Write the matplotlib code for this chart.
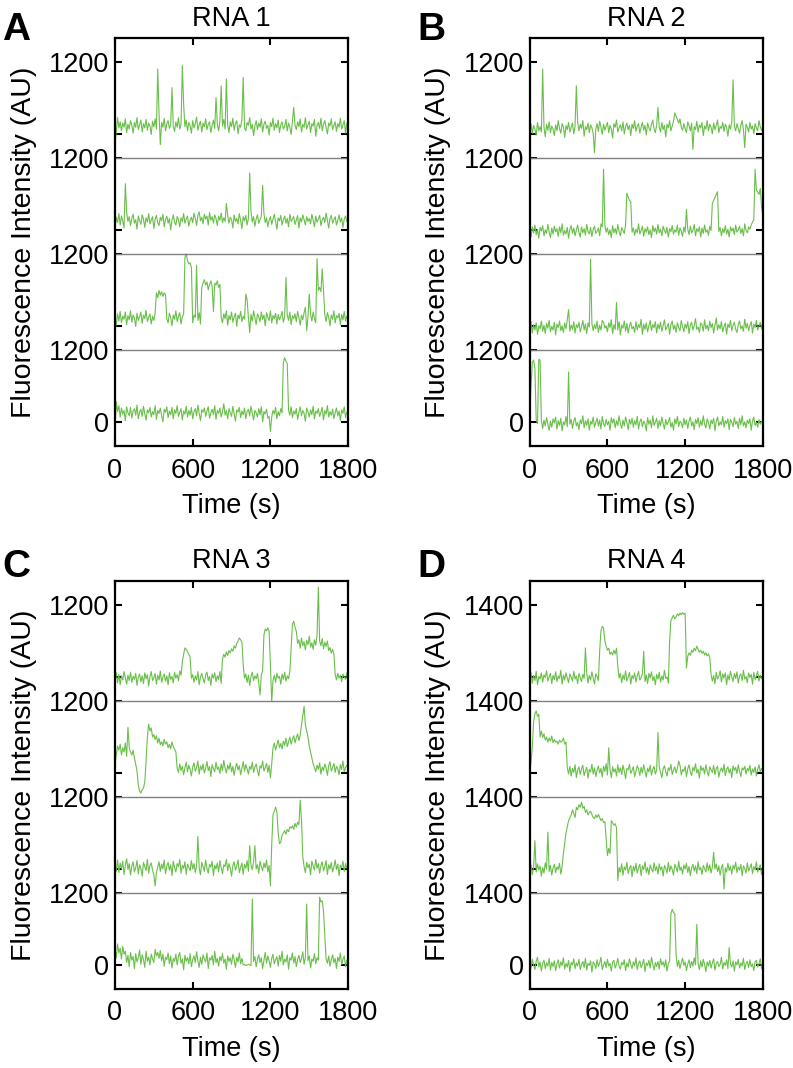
import numpy as np
import matplotlib.pyplot as plt

plt.rcParams['font.family'] = ['Liberation Sans', 'DejaVu Sans']

# time axis, one sample every 10 s
time_s = np.arange(0, 1801, 10)

# Panel A, RNA 1 (top to bottom), AU
rna1_a = [-150, 40, 280, 110, 210, 60, 190, 120, 260, 30,
          170, 90, 230, 150, 20, 200, 120, 280, 80, 160,
          240, 40, 180, 110, 250, 70, 190, 140, 0, 220,
          130, 260, 90, 1090, 350, -170, 200, 120, 270, 60,
          180, 230, 100, 160, 780, 140, 50, 210, 120, 280,
          90, 170, 1150, 500, 130, 240, 60, 200, 150, 20,
          230, 110, 180, 290, 70, 160, 220, 40, 190, 130,
          260, 80, 170, 210, 30, 150, 240, 100, 615, 180,
          60, 220, 810, 140, 250, 90, 925, 160, 30, 210,
          130, 270, 70, 180, 230, 10, 160, 120, 250, 950,
          110, 60, 200, 150, 280, 90, 170, -20, 140, 230,
          80, 190, 120, 260, 40, 170, 220, 100, 150, -10,
          200, 130, 270, 70, 180, 110, 240, 30, 160, 210,
          90, 140, 250, 60, 190, 120, 0, 230, 450, 150,
          80, 210, 130, 260, 40, 170, 120, 280, 90, 160,
          220, 30, 180, 140, 250, -30, 150, 200, 100, 270,
          60, 170, 230, 110, 10, 190, 140, 260, 80, 150,
          210, 50, 180, 120, 270, 90, 160, 230, 20, 190,
          140]
rna1_b = [60, 220, 130, 280, 90, 240, 160, 40, 780, 300,
          150, 230, 80, 200, 270, 120, 180, 20, 240, 160,
          100, 260, 190, 50, 210, 140, 280, 110, 170, 230,
          30, 190, 250, 130, 80, 220, 160, 270, 60, 180,
          240, 120, 200, 10, 170, 260, 140, 90, 230, 180,
          60, 210, 150, 280, 120, 190, 240, 70, 170, 220,
          130, 290, 200, 80, 250, 310, 160, 220, 110, 270,
          190, 240, 90, 300, 170, 230, 120, 260, 200, 80,
          240, 170, 290, 130, 210, 150, 450, 250, 120, 220,
          180, 40, 260, 150, 200, 110, 280, 170, 30, 230,
          160, 250, 90, 200, 960, 320, 140, 230, 70, 190,
          260, 120, 180, 240, 750, 280, 130, 210, 60, 170,
          230, 100, 190, 270, 140, 20, 210, 160, 250, 90,
          180, 240, 120, 200, 60, 270, 150, 190, 230, 100,
          170, 250, 40, 210, 140, 260, 180, 90, 230, 150,
          200, 110, 270, 170, 60, 240, 140, 190, 250, 80,
          180, 220, 130, 290, 160, 40, 200, 250, 120, 180,
          230, 90, 170, 260, 140, 210, 50, 190, 240, 150,
          110]
rna1_c = [130, 20, 210, 90, 250, 60, 170, 120, 240, 30,
          180, 110, 260, 70, 190, 140, 0, 220, 100, 160,
          240, 50, 190, 130, 270, 80, 150, 210, 40, 170,
          100, 230, 560, 480, 600, 520, 580, 500, 560, 530,
          130, 60, 220, 150, 10, 190, 120, 260, 80, 170,
          230, 40, 160, 200, 1150, 1210, 1100, 1040, 1060, 980,
          60, 190, 150, 1020, 100, 230, 40, 650, 720, 780,
          690, 740, 610, 700, 760, 670, 250, 720, 690, 760,
          650, 700, 150, 60, 210, 130, 260, 20, 180, 110,
          240, 70, 160, 220, 0, 190, 130, 250, 80, 170,
          120, 540, 450, 150, -100, 200, 90, 260, 140, 30,
          210, 160, 80, 240, 120, 190, 10, 230, 150, 100,
          260, 60, 180, 130, 220, 40, 200, 110, 170, 250,
          70, 160, 820, 190, 100, 240, 30, 180, 130, 210,
          80, 250, 150, 20, 190, 110, 230, 320, -70, 160,
          540, 200, 90, 240, 130, 60, 1130, 600, 650, 580,
          960, 600, 200, 80, 230, 150, 10, 190, 120, 260,
          60, 180, 140, 220, 30, 200, 110, 250, 90, 170,
          190]
rna1_d = [-120, 350, 180, 280, 90, 240, 140, 200, 30, 260,
          160, 110, 250, 70, 190, 230, 120, 290, 60, 170,
          220, 100, 270, 140, 40, 210, 160, 250, 90, 180,
          130, 280, 50, 200, 150, 240, 110, 10, 220, 170,
          260, 80, 190, 130, 250, 60, 210, 150, 280, 100,
          170, 230, 40, 190, 140, 270, 90, 200, 120, 250,
          60, 180, 230, 110, 290, 150, 30, 210, 170, 240,
          100, 190, 260, 70, 160, 220, 130, 280, 50, 200,
          150, 240, 90, 180, 310, 120, 200, 60, 230, 160,
          100, 270, 140, 20, 210, 170, 250, 80, 190, 130,
          240, 60, 180, 220, 110, 270, 150, 40, 200, 160,
          90, 230, 130, 260, 10, 180, 140, 220, 70, 100,
          -150, 90, 200, 140, 250, 60, 180, 110, 230, 160,
          1000, 1080, 1020, 980, 200, 120, 260, 80, 190, 140,
          230, 50, 170, 260, 110, 200, 150, 20, 240, 180,
          90, 210, 130, 270, 60, 190, 150, 230, 100, 170,
          250, 40, 200, 140, 280, 90, 180, 120, 220, 60,
          160, 240, 110, 190, 30, 210, 150, 260, 80, 170,
          200]

# Panel B, RNA 2
rna2_a = [80, 180, 20, 150, 90, -10, 200, 60, 130, 40,
          1090, 120, -40, 170, 70, 210, 30, 140, 90, -20,
          160, 60, 230, 100, 20, 180, 130, -50, 150, 80,
          200, 40, 120, 190, 10, 140, 810, 200, 60, 170,
          100, 230, -30, 130, 80, 190, 30, 160, 110, 20,
          -300, 90, 180, 50, 220, 120, 0, 170, 70, 140,
          200, 30, 150, 90, -60, 180, 120, 240, 40, 110,
          160, 60, 210, 10, 130, 190, 80, 150, -20, 170,
          100, 230, 50, 140, 180, 20, 120, 200, 70, 150,
          -10, 190, 110, 60, 170, 240, 90, 30, 160, 450,
          120, 40, 200, 80, 150, -40, 170, 110, 230, 60,
          140, 220, 360, 300, 250, 190, 260, 120, 70, 180,
          100, 30, 210, 150, 60, 190, -250, 130, 80, 220,
          40, 160, 110, 200, -20, 140, 90, 230, 60, 170,
          120, 10, 190, 80, 150, 240, 30, 130, 100, 200,
          50, 170, 120, -30, 160, 90, 210, 910, 140, 60,
          180, 100, 20, 150, 230, 80, -220, 170, 120, 40,
          200, 90, 140, 10, 180, 110, 60, 230, 130, 70,
          150]
rna2_b = [30, -110, 60, -40, 90, -70, 20, -130, 50, -10,
          80, -90, 10, -50, 100, -30, -120, 40, -60, 70,
          -20, 30, -100, 60, -40, 110, -80, 0, -60, 50,
          -130, 20, 80, -50, 40, -90, 10, 90, -30, -110,
          60, -40, 30, -80, 100, -20, -60, 50, -100, 20,
          70, -50, -10, 40, -90, 110, 60, 1020, 90, -30,
          40, -70, 10, -120, 80, -40, 30, -60, 100, -20,
          -90, 50, 0, -50, 90, 620, 560, 500, 480, -30,
          40, -80, 20, -40, 110, -60, 0, 70, -100, 30,
          -30, 60, -70, 10, -120, 80, -20, 40, -60, 100,
          -40, 20, -90, 70, 0, -50, 50, -110, 30, -20,
          80, -60, 10, -30, 90, -80, 40, -10, -100, 60,
          -30, 350, 20, -70, 70, -40, 0, 100, -90, 30,
          -20, 60, -110, 40, -50, 90, -30, 10, -80, 70,
          0, 450, 500, 550, 600, 645, -20, 50, -90, 30,
          -40, 80, -60, 20, -110, 60, -10, 40, -70, 90,
          -30, 10, 70, -50, 30, -90, 110, 0, -40, 60,
          20, 90, 140, 180, 1020, 670, 640, 600, 700, 400,
          250]
rna2_c = [-20, 80, -110, 30, -60, 60, -130, 10, -40, 90,
          -80, 20, -120, 50, -30, 100, -90, 0, -60, 70,
          -140, 40, -20, 90, -70, 10, -100, 60, -40, 110,
          280, -80, 20, -50, 80, -110, 30, -20, 70, -90,
          0, 100, -60, 40, -120, 60, -10, 1120, 50, -70,
          30, -40, 90, -100, 20, -60, 100, 70, -30, 10,
          -90, 60, -20, 110, -120, 30, -50, 400, -60, 80,
          -140, 20, -30, 90, -80, 50, -110, 10, 70, -40,
          0, -100, 80, -60, 30, -20, 120, -130, 40, -50,
          60, -90, 10, 100, -70, 30, -20, 80, -110, 40,
          -40, 70, -80, 10, 110, -60, -10, 50, -130, 30,
          90, -50, 20, -100, 60, -20, -70, 100, 0, -90,
          40, -30, 80, -120, 20, 70, -60, 10, 130, -50,
          -10, -100, 60, 30, -80, 110, -40, 20, -70, 90,
          -20, 50, -110, 10, 140, -60, 30, -40, 80, -90,
          0, 60, -130, 40, -20, 100, -70, 20, 70, -50,
          -100, 30, 90, -40, 10, -80, 120, -30, 50, -70,
          20, 80, -110, 40, -20, 100, -60, 0, 70, -40,
          60]
rna2_d = [100, 600, 1000, 1040, 900, 50, -20, 1050, 1040, 30,
          -100, 40, -60, 80, -30, -130, 20, -80, 60, -10,
          90, -110, 30, -50, 70, -140, 10, -40, 100, -70,
          840, -30, 50, -100, 20, 80, -60, 0, -120, 40,
          -20, 110, -90, 30, -50, 60, -130, 20, -30, 90,
          -80, 0, 70, -60, 40, -110, 100, -20, -70, 50,
          -40, 20, -130, 80, -10, 60, -90, 30, -50, 110,
          -20, -100, 40, -60, 90, 0, -120, 50, -30, 70,
          -80, 30, -40, 100, -110, 10, 60, -70, 20, -20,
          -140, 80, -30, 40, -90, 110, -50, 0, 70, -100,
          30, -60, 90, -20, -110, 50, -40, 10, 80, -80,
          0, -130, 60, -30, 100, -70, 20, -10, -90, 70,
          -40, 40, -100, 20, 90, -60, 10, -120, 50, -20,
          80, -80, 30, -50, 110, -30, -90, 60, 0, -110,
          40, -20, 70, -140, 20, 90, -60, 10, -40, 100,
          -80, 30, -20, 60, -120, 50, 0, -70, 80, -30,
          20, -100, 70, -40, 110, -60, 10, -90, 40, -20,
          60, -130, 30, 90, -50, 0, -80, 50, -30, 20,
          -20]

# Panel C, RNA 3
rna3_a = [-20, 70, -100, 40, -130, 20, -50, 90, -10, -120,
          30, -60, 80, -90, 10, -40, 60, -140, 0, 50,
          -80, 20, -110, 70, -30, 40, -150, 10, 90, -60,
          -10, 60, -120, 30, -50, 100, -90, 0, 50, -70,
          20, -130, 70, -40, 10, -100, 80, -20, 40, -60,
          100, 30, 250, 380, 485, 460, 420, 380, 330, -20,
          40, -90, 20, -50, 90, -130, 0, 60, -30, -100,
          30, 80, -60, 10, -140, 50, -20, 70, -80, 20,
          -40, 90, -110, 300, 380, 330, 420, 360, 440, 400,
          470, 430, 520, 480, 560, 600, 650, 620, 580, 200,
          -20, 50, -90, 30, -140, 10, 80, -60, 20, -30,
          60, -100, -300, 40, 100, 700, 800, 770, 820, 760,
          200, -410, -60, 30, -90, 60, -20, 10, -120, 50,
          -40, 80, -70, 20, -30, 90, 500, 880, 930, 830,
          760, 560, 620, 480, 650, 520, 590, 450, 610, 540,
          680, 500, 570, 460, 620, 530, 700, 1500, 600, 520,
          640, 470, 580, 510, 600, 440, 490, 400, 460, 380,
          40, -50, 60, -20, 30, -80, 50, 0, -40, 70,
          10]
rna3_b = [150, 300, 450, 380, 480, 300, 420, 350, 500, 280,
          760, 420, 350, 300, 380, 250, 150, 30, -200, -300,
          -335, -280, -250, -150, 200, 600, 815, 700, 750, 600,
          640, 560, 620, 500, 580, 470, 520, 450, 560, 480,
          520, 420, 480, 400, 520, 440, 400, 350, 80, 10,
          150, 40, 110, -30, 90, 180, 20, 130, 60, -50,
          100, 170, 30, 90, 200, -20, 120, 50, 150, 0,
          80, 190, 40, 110, -60, 140, 70, 20, 180, 60,
          100, -10, 150, 40, 210, 80, 0, 130, 60, 170,
          20, 110, -40, 90, 160, 50, 120, -30, 80, 190,
          30, 140, 70, -20, 110, 60, 180, 10, 100, 150,
          40, -50, 120, 80, 200, 30, 90, 160, 10, 130,
          -80, 150, 420, 500, 380, 470, 550, 420, 490, 400,
          530, 460, 580, 440, 520, 600, 480, 560, 620, 500,
          590, 650, 540, 630, 800, 950, 1110, 800, 700, 600,
          450, 350, 250, 150, 90, 20, 130, 60, 170, -20,
          100, 40, 150, 80, -40, 120, 190, 30, 90, 160,
          10, 110, 70, -30, 140, 60, 200, 20, 90, 130,
          70]
rna3_c = [80, -40, 150, -60, 100, 0, 130, -90, 60, 170,
          -10, 90, -100, 50, 120, -50, 20, 140, -80, 70,
          10, -120, 110, 40, -30, 160, -70, 60, 100, -20,
          -100, -280, -60, 30, 120, -40, 80, 0, 150, -80,
          50, 110, -20, 70, -110, 130, 20, -50, 90, 40,
          160, -70, 60, 10, 120, -90, 80, 30, -30, 140,
          0, 90, -60, 50, 540, 20, -100, 110, 40, -40,
          150, 10, -70, 80, 30, 130, -110, 60, 0, 100,
          -50, 140, 20, -80, 70, 40, 160, -30, 90, 10,
          -120, 60, 120, -20, 50, 150, -60, 30, 100, -90,
          80, 10, 140, -40, 390, 60, -10, 120, 390, 0,
          70, -70, 130, 40, -30, 100, 20, 150, -50, 60,
          -280, 400, 900, 960, 1030, 950, 600, 420, 450, 560,
          600, 640, 580, 660, 620, 700, 680, 720, 660, 760,
          700, 780, 740, 1145, 810, 200, 40, -60, 110, 20,
          80, -100, 130, 50, -20, 160, 10, 90, -70, 60,
          120, -30, 40, 140, -90, 70, 0, 110, -50, 30,
          150, -10, 80, -110, 60, 20, 130, -40, 90, 10,
          50]
rna3_d = [300, 120, 350, 200, 280, 100, 310, 180, 230, 40,
          160, -30, 210, 80, 140, -60, 190, 50, 120, 250,
          10, 170, 90, -40, 230, 60, 130, 0, 180, 100,
          40, 260, 150, 210, 110, 240, 70, 180, -20, 130,
          90, 200, 20, 150, -50, 110, 60, 180, 0, 140,
          210, 30, 100, -80, 160, 60, 120, 20, 190, -30,
          90, 150, 40, 220, 70, -40, 130, 10, 170, 100,
          50, 200, -60, 120, 80, 160, 0, 230, 40, 110,
          -20, 140, 70, 190, 30, 100, -70, 150, 60, 120,
          10, 180, 90, -40, 130, 50, 200, 20, 110, 0,
          10, -10, 0, 10, 0, -10, 1100, 60, 140, -30,
          90, 170, 40, 120, -60, 80, 210, 30, 150, 70,
          -40, 110, 180, 20, 90, 140, -20, 160, 60, 230,
          0, 100, 50, 170, -70, 120, 80, 200, 30, 140,
          -30, 90, 160, 40, 110, 220, 10, 130, 1015, 70,
          150, -50, 100, 60, 190, 20, 120, 80, 1130, 1050,
          1070, 900, 480, 100, 30, 150, -20, 90, 170, 40,
          110, -60, 130, 60, 200, 10, 90, 150, -30, 80,
          70]

# Panel D, RNA 4
rna4_a = [-20, 90, -120, 30, -70, 110, -150, 10, -40, 80,
          -100, 40, -10, 120, -80, 0, 70, -130, 30, -50,
          100, -90, 20, -30, 130, -140, 40, -60, 80, -20,
          -110, 60, 0, -80, 110, -40, 20, -130, 70, -10,
          -90, 50, -30, 565, 80, -120, 30, -60, 100, -20,
          -140, 60, 10, -70, 500, 900, 985, 950, 700, 600,
          520, 560, 440, 480, 430, 520, 450, 560, 200, -20,
          70, -110, 40, -50, 120, -80, 0, 90, -140, 30,
          -30, 80, -100, 20, 110, -60, -10, 60, 500, -90,
          40, -130, 70, -20, 100, -70, 10, -150, 50, -40,
          90, -100, 20, -60, 130, -30, 0, -120, 700, 1100,
          1150, 1200, 1130, 1170, 1230, 1190, 1245, 1210, 1250, 1220,
          1240, 175, 400, 470, 420, 520, 480, 560, 510, 600,
          540, 480, 520, 460, 500, 430, 470, 410, 450, 380,
          50, -80, 30, -130, 90, -40, 10, 120, -100, 60,
          -20, 80, -150, 40, -60, 110, 0, -90, 70, -30,
          100, -120, 20, 60, -70, 130, -40, 10, -110, 80,
          -10, 50, -140, 90, -50, 20, 110, -80, 40, -30,
          0]
rna4_b = [50, 200, 500, 1000, 1150, 1205, 1100, 1140, 700, 815,
          690, 760, 640, 700, 600, 680, 620, 720, 590, 650,
          600, 620, 560, 640, 600, 620, 680, 560, 600, 100,
          -20, 130, -60, 90, 10, 160, -90, 60, 120, -30,
          80, 150, -50, 40, 110, -100, 70, 20, 170, -20,
          100, -70, 50, 140, 0, 90, -80, 130, 30, 180,
          -40, 490, 60, -90, 120, 20, 80, -60, 160, 10,
          100, -30, 150, 40, -110, 90, 60, 170, -10, 50,
          120, -70, 30, 140, 80, -50, 110, 0, 160, 40,
          -80, 90, 20, 150, -40, 70, 130, -20, 60, 785,
          110, 10, -90, 80, 140, 30, -60, 100, 50, 170,
          -30, 60, 120, 0, 90, 230, 150, -40, 70, 30,
          130, -70, 80, 160, 20, -50, 110, 40, 180, 0,
          70, -100, 140, 50, 100, -20, 160, 30, -60, 120,
          60, 10, 150, -30, 90, 130, -80, 40, 100, 20,
          170, -50, 70, 120, 0, 80, -90, 140, 50, 110,
          -10, 160, 30, -70, 100, 60, 130, -20, 90, 40,
          150, -40, 80, 10, 120, -60, 70, 160, 20, 90,
          50]
rna4_c = [-30, 80, -110, 40, 550, -60, 100, -20, 60, -140,
          30, -80, 120, 0, 715, -50, 70, -120, 20, 90,
          -70, 40, -10, 110, -100, 50, 300, 500, 700, 820,
          940, 1000, 1050, 1150, 1080, 1000, 1200, 1150, 1250, 1200,
          1300, 1180, 1220, 1100, 1150, 1050, 1100, 1120, 1060, 1000,
          980, 1050, 1000, 1060, 1000, 940, 980, 900, 920, 600,
          260, 400, 300, 940, 900, 850, 880, 800, -225, 30,
          -60, 100, -120, 40, -20, 130, -90, 10, 70, -150,
          50, -40, 110, -80, 20, 90, -130, 60, -10, 140,
          -70, 30, -110, 80, 0, -60, 120, -30, 50, -100,
          100, -20, 40, -140, 70, 10, -80, 130, -50, 60,
          -10, -120, 90, 30, -60, 150, -30, 40, -100, 80,
          0, 110, -70, 50, -130, 20, 90, -40, 60, -90,
          140, -20, 30, -110, 70, 10, -60, 120, -30, 80,
          -80, 40, 325, 0, 100, -50, 60, -120, 30, 90,
          -390, 20, -60, 110, -30, 50, -100, 70, 0, 130,
          -70, 40, -20, 90, -130, 60, 10, -80, 120, -40,
          30, 100, -90, 50, -20, 140, -60, 20, 80, -110,
          60]
rna4_d = [20, -60, 110, 0, -90, 70, 150, -40, 60, -120,
          30, 90, -70, 40, -20, 130, -100, 50, -30, 80,
          -110, 20, 100, -60, 60, -10, 140, -80, 30, -40,
          90, -130, 50, 0, 120, -70, 40, -20, 110, -90,
          10, 70, -50, 130, -100, 30, -10, 80, -140, 60,
          20, -70, 100, -30, 40, 150, -90, 0, 70, -50,
          110, -20, 30, -120, 60, 90, -60, 20, 130, -30,
          -80, 50, 0, 100, -110, 40, -40, 120, 10, -70,
          60, -20, 140, -90, 30, 80, -50, 10, 110, -130,
          40, -10, 90, -60, 150, 20, -100, 50, -30, 70,
          -80, 120, 0, 60, -40, 100, -120, 30, 80, 1000,
          1080, 1020, 1000, 200, -30, 90, -70, 40, 130, -10,
          60, -110, 20, 100, -50, 70, -20, 140, 0, 790,
          30, -90, 80, -40, 110, 10, -130, 60, -20, 90,
          -60, 40, 120, -100, 30, 70, -30, 10, 150, -80,
          50, -10, 100, -70, 340, 20, -40, 80, -120, 60,
          0, 110, -60, 40, -20, 130, -90, 30, 70, -50,
          100, -30, 20, -110, 60, 90, -40, 10, 120, -70,
          20]

panels = [
    ('A', 'RNA 1', 1200, [rna1_a, rna1_b, rna1_c, rna1_d]),
    ('B', 'RNA 2', 1200, [rna2_a, rna2_b, rna2_c, rna2_d]),
    ('C', 'RNA 3', 1200, [rna3_a, rna3_b, rna3_c, rna3_d]),
    ('D', 'RNA 4', 1400, [rna4_a, rna4_b, rna4_c, rna4_d]),
]
xticks = [0, 600, 1200, 1800]

green = '#6abf4b'
fs = 19.5

fig = plt.figure(figsize=(7.93, 10.68), dpi=100)
ax_pos = [(0.145, 0.582), (0.668, 0.582), (0.145, 0.074), (0.668, 0.074)]
letter_pos = [(0.003, 0.9625), (0.526, 0.9625), (0.003, 0.4597), (0.526, 0.4597)]

for (letter, title, unit, traces), (x0, y0), (lx, ly) in zip(panels, ax_pos, letter_pos):
    ax = fig.add_axes([x0, y0, 0.294, 0.382])
    step = unit * 4 / 3
    n = len(traces)
    for k, tr in enumerate(traces):
        off = (n - 1 - k) * step
        ax.plot(time_s, np.array(tr) + off, color=green, lw=0.8)
    for k in range(n - 1):
        ax.axhline(k * step + unit, color='#808080', lw=1.0)

    yt, yl = [], []
    for k in range(n):
        yt += [k * step, k * step + unit]
        yl += ['0' if k == 0 else '', str(unit)]
    ax.set_yticks(yt)
    ax.set_yticklabels(yl)
    ax.set_ylim(-unit / 3, unit * 16 / 3)
    ax.set_xlim(0, 1800)
    ax.set_xticks(xticks)
    ax.tick_params(direction='in', top=True, right=True, length=5, width=1.5,
                   labelsize=fs)
    ax.tick_params(axis='x', pad=8)
    ax.tick_params(axis='y', pad=4)
    for s in ax.spines.values():
        s.set_linewidth(1.6)
    ax.set_xlabel('Time (s)', fontsize=fs, labelpad=7)
    ax.set_ylabel('Fluorescence Intensity (AU)', fontsize=20.5, labelpad=9)
    ax.set_title(title, fontsize=19.5, pad=9)
    fig.text(lx, ly, letter, fontsize=28, fontweight='bold', va='baseline')

fig.savefig('out.png', dpi=100)
